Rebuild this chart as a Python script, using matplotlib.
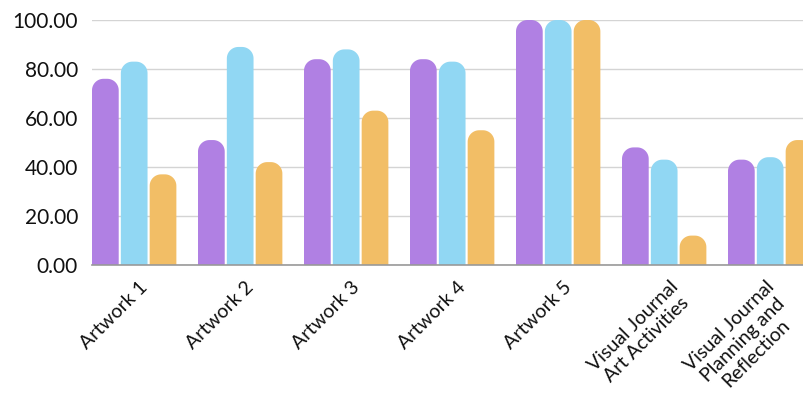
import matplotlib
matplotlib.use("Agg")
import matplotlib.pyplot as plt
from matplotlib.patches import PathPatch
from matplotlib.path import Path
import matplotlib.transforms as mtransforms
import numpy as np

categories = ["Artwork 1", "Artwork 2", "Artwork 3", "Artwork 4", "Artwork 5",
              "Visual Journal\nArt Activities", "Visual Journal\nPlanning and\nReflection"]
series_a = [76, 51, 84, 84, 100, 48, 43]
series_b = [83, 89, 88, 83, 100, 43, 44]
series_c = [37, 42, 63, 55, 100, 12, 51]
colors = ["#B080E3", "#91D7F3", "#F2BE66"]
yticks = [0, 20, 40, 60, 80, 100]

W, H = 804, 395
fig = plt.figure(figsize=(W / 100, H / 100), dpi=100)
ax_left, ax_right, ax_top, ax_bot = 92, 804, 20, 265
ax = fig.add_axes([ax_left / W, 1 - ax_bot / H, (ax_right - ax_left) / W, (ax_bot - ax_top) / H])

step = 0.272
bw = 0.252
group_px = 106.0
x0 = -step - bw / 2
x1 = x0 + (ax_right - ax_left) / group_px
ax.set_xlim(x0, x1)
ax.set_ylim(0, 100)

xpp = (x1 - x0) / (ax_right - ax_left)
ypp = 100.0 / (ax_bot - ax_top)
r_px = 11.5


def rounded_bar(left, width, height):
    rx = min(r_px * xpp, width / 2)
    ry = min(r_px * ypp, height)
    right = left + width
    verts = [(left, 0), (right, 0), (right, height - ry)]
    th = np.linspace(0, np.pi / 2, 16)
    cx, cy = right - rx, height - ry
    verts += [(cx + rx * np.cos(t), cy + ry * np.sin(t)) for t in th]
    cx = left + rx
    verts += [(cx + rx * np.cos(t), cy + ry * np.sin(t)) for t in th + np.pi / 2]
    verts += [(left, 0)]
    return Path(verts)


x = np.arange(len(categories))
for k, (vals, col) in enumerate(zip([series_a, series_b, series_c], colors)):
    for xi, v in zip(x, vals):
        left = xi + (k - 1) * step - bw / 2
        ax.add_patch(PathPatch(rounded_bar(left, bw, v), facecolor=col,
                               edgecolor="none", zorder=3))

ax.set_yticks(yticks)
ax.set_yticklabels([f"{t:.2f}" for t in yticks], fontsize=15, family="Lato",
                   color="#111111")
ax.yaxis.grid(True, color="#d4d4d4", linewidth=1.0, zorder=0)
ax.set_axisbelow(True)
ax.tick_params(axis="y", length=0, pad=10)
ax.tick_params(axis="x", length=0)
for s in ["top", "right", "left"]:
    ax.spines[s].set_visible(False)
ax.spines["bottom"].set_color("#999999")
ax.spines["bottom"].set_linewidth(1.2)
ax.spines["bottom"].set_zorder(4)

ax.set_xticks(x)
ax.set_xticklabels([])

renderer = fig.canvas.get_renderer()
fs = 14
lh = 19.5  # px between lines
c45 = np.cos(np.pi / 4)
u = np.array([c45, c45])
n = np.array([c45, -c45])


def text_width(s):
    t = fig.text(0, 0, s, fontsize=fs, family="Lato")
    w = t.get_window_extent(renderer).width
    t.remove()
    return w


for i, (xi, lab) in enumerate(zip(x, categories)):
    dx = 5 if i < len(categories) - 1 else -5
    A = np.array([dx, -13.0])
    lines = lab.split("\n")
    widths = [text_width(s) for s in lines]
    wb = max(widths)
    for j, s in enumerate(lines):
        p = A - u * wb / 2 + n * (j * lh)
        off = mtransforms.ScaledTranslation(p[0] / 100, p[1] / 100, fig.dpi_scale_trans)
        ax.text(xi, 0, s, rotation=45, ha="center", va="top", rotation_mode="anchor",
                fontsize=fs, family="Lato", color="#111111",
                transform=ax.get_xaxis_transform() + off)

fig.savefig("out.png", dpi=100)
